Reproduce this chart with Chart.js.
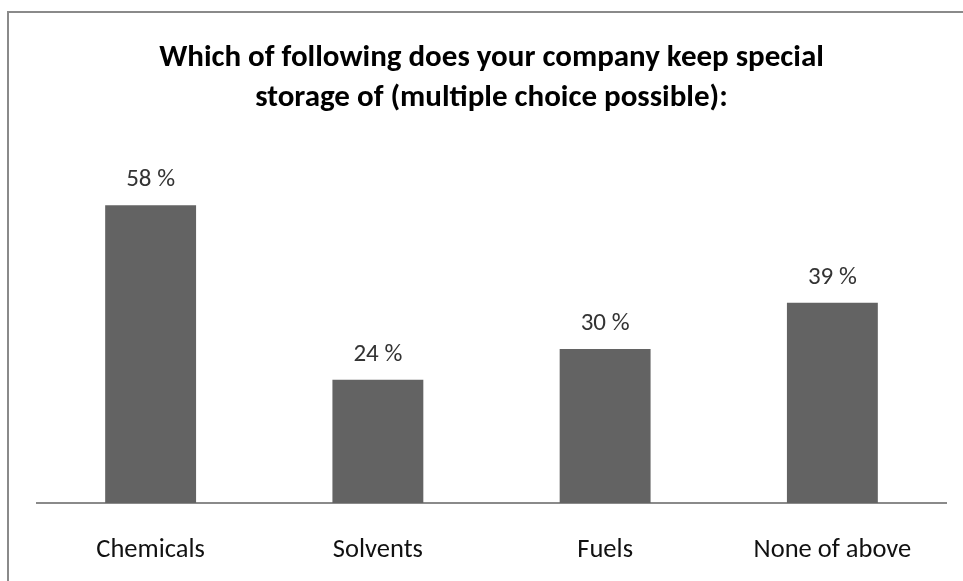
<!DOCTYPE html>
<html>
<head>
<meta charset="utf-8">
<script src="https://cdn.jsdelivr.net/npm/chart.js@4"></script>
<style>
  html, body { margin: 0; padding: 0; background: #fff; }
  #wrap { width: 963px; height: 581px; }
</style>
</head>
<body>
<div id="wrap"><canvas id="myChart" width="963" height="581"></canvas></div>
<script>
// storage survey, share of companies (%)
const categorias = ['Chemicals', 'Solvents', 'Fuels', 'None of above'];
const valores = [58, 24, 30, 39];
const titulo = ['Which of following does your company keep special', 'storage of (multiple choice possible):'];

const fonte = "Carlito, Calibri, 'Open Sans', sans-serif";

// frame lines on left and top
const moldura = {
    id: 'moldura',
    beforeDraw(chart) {
        const c = chart.ctx;
        c.save();
        c.strokeStyle = '#8a8a8a';
        c.lineWidth = 2;
        c.beginPath();
        c.moveTo(8, 581);
        c.lineTo(8, 12);
        c.lineTo(963, 12);
        c.stroke();
        c.restore();
    }
};

// value labels above the bars
const rotulos = {
    id: 'rotulos',
    afterDatasetsDraw(chart) {
        const c = chart.ctx;
        const meta = chart.getDatasetMeta(0);
        c.save();
        c.font = '25px ' + fonte;
        c.fillStyle = '#333333';
        c.textAlign = 'center';
        c.textBaseline = 'alphabetic';
        meta.data.forEach((bar, i) => {
            c.fillText(valores[i] + ' %', bar.x, bar.y - 19);
        });
        c.restore();
    }
};

const ctx = document.getElementById('myChart');

const data = {
    labels: categorias,
    datasets: [{
        data: valores,
        backgroundColor: '#636363',
        borderWidth: 0,
        categoryPercentage: 1.0,
        barPercentage: 0.4
    }]
};

const config = {
    type: 'bar',
    data,
    options: {
        responsive: false,
        animation: false,
        layout: { padding: { left: 37, right: 17, top: 0, bottom: 0 } },
        plugins: {
            legend: { display: false },
            tooltip: { enabled: false },
            title: {
                display: true,
                text: titulo,
                color: '#000',
                font: { family: fonte, size: 31, weight: 'bold', lineHeight: 1.3 },
                padding: { top: 38, bottom: 25 }
            }
        },
        scales: {
            y: { display: false, min: 0, max: 70 },
            x: {
                grid: { display: false, drawTicks: false },
                border: { display: true, color: '#8a8a8a', width: 2 },
                ticks: { color: '#111', padding: 31, font: { family: fonte, size: 26.5 } },
                afterFit(scale) { scale.height = 78; }
            }
        }
    },
    plugins: [moldura, rotulos]
};

const Mychart = new Chart(ctx, config);
</script>
</body>
</html>
